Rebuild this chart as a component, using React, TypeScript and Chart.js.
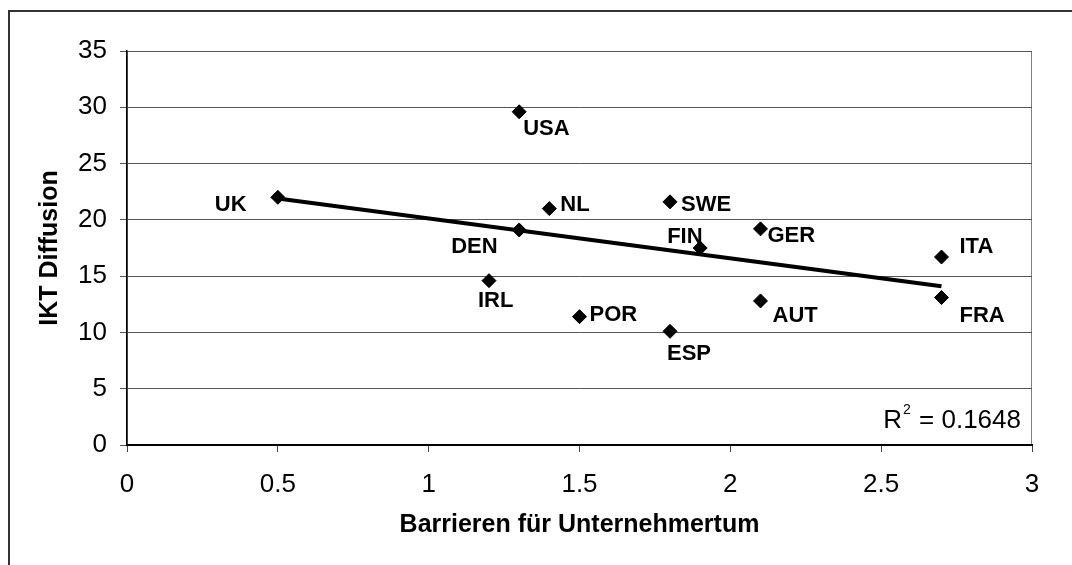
import { useEffect, useRef } from "react";
import { Chart, registerables } from "chart.js";

Chart.register(...registerables);

// ---- Data ----
const countries = ["UK", "USA", "NL", "SWE", "DEN", "FIN", "GER", "IRL", "POR", "ESP", "AUT", "ITA", "FRA"];
const barriers = [0.5, 1.3, 1.4, 1.8, 1.3, 1.9, 2.1, 1.2, 1.5, 1.8, 2.1, 2.7, 2.7];
const diffusion = [22.0, 29.6, 21.0, 21.6, 19.1, 17.5, 19.2, 14.6, 11.4, 10.1, 12.8, 16.7, 13.1];
const trendX = [0.5, 2.7];
const trendY = [21.9, 14.1];
const rSquaredText = "0.1648";
const xAxisTitle = "Barrieren für Unternehmertum";
const yAxisTitle = "IKT Diffusion";
const xRange = [0, 3, 0.5];
const yRange = [0, 35, 5];

// ---- Label placement (style only): left edge offset and vertical offset from marker, px ----
const labelPlacement: Record<string, [number, number]> = {
  UK: [-63, 7.5],
  USA: [4, 17.5],
  NL: [11, -4],
  SWE: [11, 3],
  DEN: [-68, 17],
  FIN: [-33, -11],
  GER: [7, 7],
  IRL: [-11, 20],
  POR: [10, -1.5],
  ESP: [-3, 23],
  AUT: [12, 15],
  ITA: [18, -10],
  FRA: [18, 18],
};

const FONT = "'Liberation Sans', Arial, Helvetica, sans-serif";

const plotFramePlugin = {
  id: "plotFrame",
  beforeDraw(chart: any) {
    const { ctx, chartArea } = chart;
    ctx.save();
    ctx.strokeStyle = "#808080";
    ctx.lineWidth = 1;
    ctx.strokeRect(chartArea.left + 0.5, chartArea.top + 0.5, chartArea.right - chartArea.left - 1, chartArea.bottom - chartArea.top);
    ctx.restore();
  },
};

const pointLabelPlugin = {
  id: "pointLabels",
  afterDatasetsDraw(chart: any) {
    const { ctx } = chart;
    const meta = chart.getDatasetMeta(0);
    ctx.save();
    ctx.font = `bold 22px ${FONT}`;
    ctx.fillStyle = "#000";
    ctx.textAlign = "left";
    ctx.textBaseline = "middle";
    meta.data.forEach((el: any, i: number) => {
      const name = countries[i];
      const [dx, dy] = labelPlacement[name] || [10, 0];
      ctx.fillText(name, el.x + dx, el.y + dy);
    });
    ctx.restore();
  },
};

const rSquaredPlugin = {
  id: "rSquared",
  afterDraw(chart: any) {
    const { ctx, chartArea } = chart;
    const right = chartArea.right - 11;
    const baseline = chartArea.bottom - 17;
    ctx.save();
    ctx.fillStyle = "#000";
    ctx.textBaseline = "alphabetic";
    ctx.textAlign = "left";
    ctx.font = `26px ${FONT}`;
    const rest = " = " + rSquaredText;
    const wRest = ctx.measureText(rest).width;
    const wR = ctx.measureText("R").width;
    ctx.font = `14px ${FONT}`;
    const wSup = ctx.measureText("2").width;
    const xRest = right - wRest;
    const xSup = xRest - wSup - 1;
    const xR = xSup - wR - 1;
    ctx.fillText("2", xSup, baseline - 14);
    ctx.font = `26px ${FONT}`;
    ctx.fillText("R", xR, baseline);
    ctx.fillText(rest, xRest, baseline);
    ctx.restore();
  },
};

export default function App() {
  const canvasRef = useRef<HTMLCanvasElement | null>(null);

  useEffect(() => {
    const canvas = canvasRef.current;
    if (!canvas) return;
    const points = barriers.map((x, i) => ({ x, y: diffusion[i] }));
    const trend = trendX.map((x, i) => ({ x, y: trendY[i] }));

    const chart = new Chart(canvas, {
      type: "scatter",
      data: {
        datasets: [
          {
            label: "IKT Diffusion",
            data: points,
            pointStyle: "rectRot",
            pointRadius: 7,
            pointHoverRadius: 7,
            backgroundColor: "#000",
            borderColor: "#000",
            borderWidth: 1,
            order: 1,
          },
          {
            label: "Trend",
            data: trend,
            showLine: true,
            borderColor: "#000",
            borderWidth: 4,
            pointRadius: 0,
            pointHoverRadius: 0,
            fill: false,
            order: 0,
          } as any,
        ],
      },
      options: {
        responsive: false,
        animation: false,
        events: [],
        layout: { padding: { left: 0, top: 51, right: 40, bottom: 0 } },
        plugins: {
          legend: { display: false },
          tooltip: { enabled: false },
          title: { display: false },
        },
        scales: {
          x: {
            type: "linear",
            min: xRange[0],
            max: xRange[1],
            afterFit: (scale: any) => {
              scale.height = 120;
            },
            ticks: {
              stepSize: xRange[2],
              color: "#000",
              font: { family: FONT, size: 26 },
              padding: 17,
              maxRotation: 0,
              callback: (v: any) => String(Number(v)),
            },
            grid: {
              display: true,
              drawOnChartArea: false,
              drawTicks: true,
              tickLength: 7,
              color: "#444",
              lineWidth: 1,
            },
            border: { display: true, color: "#000", width: 2 },
            title: {
              display: true,
              text: xAxisTitle,
              color: "#000",
              font: { family: FONT, size: 25, weight: "bold" },
              padding: { top: 0, bottom: 25 },
            },
          },
          y: {
            type: "linear",
            min: yRange[0],
            max: yRange[1],
            afterFit: (scale: any) => {
              scale.width = 127;
            },
            ticks: {
              stepSize: yRange[2],
              color: "#000",
              font: { family: FONT, size: 26 },
              padding: 13,
              callback: (v: any) => String(Number(v)),
            },
            grid: {
              display: true,
              drawTicks: true,
              tickLength: 7,
              color: "#555",
              lineWidth: 1,
            },
            border: { display: true, color: "#000", width: 1.5 },
            title: {
              display: true,
              text: yAxisTitle,
              color: "#000",
              font: { family: FONT, size: 25, weight: "bold" },
              padding: { top: 35, bottom: 0 },
            },
          },
        },
      },
      plugins: [plotFramePlugin, pointLabelPlugin, rSquaredPlugin],
    });

    return () => {
      chart.destroy();
    };
  }, []);

  return (
    <div>
      <div
        style={{
          position: "fixed",
          left: 8,
          top: 10,
          right: 0,
          bottom: 0,
          borderTop: "2px solid #333",
          borderLeft: "2px solid #333",
          background: "#fff",
        }}
      />
      <canvas
        ref={canvasRef}
        width={1072}
        height={565}
        style={{ position: "fixed", left: 0, top: 0, width: 1072, height: 565 }}
      />
    </div>
  );
}
